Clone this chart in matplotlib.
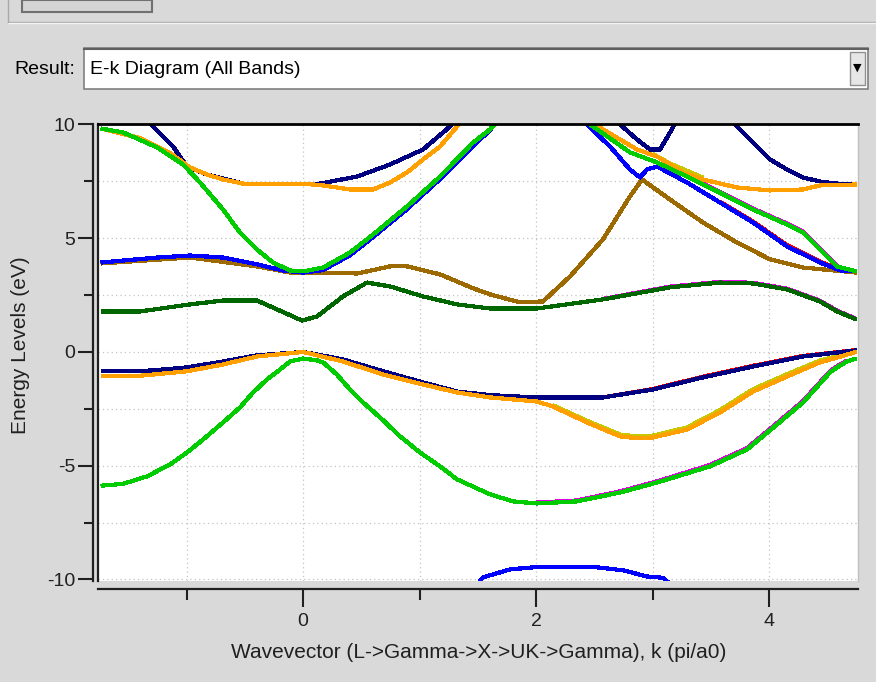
import numpy as np
import matplotlib
matplotlib.use('Agg')
from matplotlib import pyplot as plt
from matplotlib.patches import Rectangle
from matplotlib.lines import Line2D

plt.rcParams['font.family'] = ['Liberation Sans', 'DejaVu Sans']

W, H = 876, 682
bg = '#d9d9d9'

# band data, k in pi/a0, E in eV
k_blue_lo = [1.50, 1.545, 1.777, 1.974, 2.206, 2.524, 2.747, 2.953, 3.09, 3.15]
e_blue_lo = [-10.2, -9.91, -9.56, -9.47, -9.45, -9.47, -9.60, -9.87, -9.93, -10.2]

k_green_lo = [-1.734, -1.545, -1.339, -1.142, -0.996, -0.858, -0.687, -0.541, -0.429, -0.309,
              -0.197, -0.112, 0.0, 0.120, 0.172, 0.290, 0.403, 0.515, 0.661, 0.833, 1.004,
              1.176, 1.322, 1.605, 1.803, 2.009, 2.352, 2.721, 3.039, 3.494, 3.811, 4.069,
              4.292, 4.524, 4.584, 4.670, 4.75]
e_green_lo = [-5.88, -5.80, -5.47, -4.95, -4.42, -3.85, -3.10, -2.44, -1.78, -1.21,
              -0.77, -0.42, -0.29, -0.37, -0.46, -0.99, -1.65, -2.22, -2.88, -3.71, -4.42,
              -5.03, -5.60, -6.26, -6.57, -6.66, -6.57, -6.18, -5.74, -5.03, -4.29, -3.19,
              -2.22, -0.90, -0.68, -0.42, -0.29]
k_magenta_lo = [2.009, 2.352, 2.721, 3.039, 3.494, 3.811, 4.069, 4.292, 4.524, 4.584, 4.670]
e_magenta_lo = [-6.62, -6.53, -6.13, -5.69, -4.97, -4.23, -3.13, -2.16, -0.85, -0.63, -0.38]

k_orange_lo = [-1.734, -1.425, -0.996, -0.687, -0.395, 0.0, 0.343, 0.687, 1.030, 1.322, 1.605,
               2.009, 2.146, 2.438, 2.721, 2.880, 3.004, 3.296, 3.579, 3.863, 4.155, 4.438,
               4.75]
e_orange_lo = [-1.06, -1.06, -0.85, -0.55, -0.20, 0.0, -0.42, -0.99, -1.43, -1.78, -2.00,
               -2.18, -2.40, -3.10, -3.71, -3.80, -3.76, -3.41, -2.66, -1.74, -1.08, -0.46,
               0.0]
k_yellow_lo = [2.146, 2.438, 2.721, 2.880, 3.004, 3.296, 3.579, 3.863, 4.155, 4.438, 4.75]
e_yellow_lo = [-2.35, -3.03, -3.63, -3.72, -3.68, -3.32, -2.56, -1.64, -0.98, -0.38, 0.04]

k_navy_lo = [-1.734, -1.313, -0.996, -0.687, -0.395, 0.0, 0.343, 0.687, 1.030, 1.322, 1.605,
             2.009, 2.575, 3.004, 3.433, 3.863, 4.292, 4.75]
e_navy_lo = [-0.84, -0.82, -0.68, -0.42, -0.15, 0.0, -0.33, -0.85, -1.34, -1.74, -1.90,
             -2.00, -2.00, -1.65, -1.12, -0.64, -0.20, 0.07]
k_red_lo = [2.575, 3.004, 3.433, 3.863, 4.292, 4.75]
e_red_lo = [-2.00, -1.63, -1.09, -0.61, -0.18, 0.08]

k_dkgreen = [-1.734, -1.399, -0.970, -0.687, -0.395, -0.223, -0.009, 0.120, 0.343, 0.549,
             0.747, 1.030, 1.322, 1.605, 2.009, 2.575, 3.150, 3.579, 3.863, 4.155, 4.438,
             4.584, 4.75]
e_dkgreen = [1.78, 1.78, 2.09, 2.26, 2.26, 1.87, 1.38, 1.56, 2.44, 3.05, 2.88, 2.44, 2.09,
             1.91, 1.91, 2.31, 2.84, 3.05, 3.01, 2.75, 2.22, 1.78, 1.43]
k_magenta_mid = [2.575, 3.150, 3.579, 3.863, 4.155, 4.438, 4.584, 4.75]
e_magenta_mid = [2.33, 2.87, 3.08, 3.04, 2.78, 2.25, 1.81, 1.45]

k_brown = [-1.734, -0.970, -0.395, -0.112, 0.0, 0.464, 0.549, 0.747, 0.893, 1.176, 1.459,
           1.605, 1.863, 2.060, 2.292, 2.575, 2.807, 2.910, 3.150, 3.433, 3.725, 4.009,
           4.292, 4.75]
e_brown = [3.89, 4.15, 3.76, 3.49, 3.49, 3.45, 3.54, 3.76, 3.76, 3.41, 2.80, 2.53, 2.18,
           2.22, 3.32, 4.95, 6.84, 7.58, 6.70, 5.69, 4.81, 4.07, 3.71, 3.49]

k_blue_hi = [-1.734, -1.253, -0.970, -0.687, -0.395, -0.172, 0.0, 0.172, 0.403, 0.601, 0.893,
             1.176, 1.459, 1.605, 1.691, 2.0, 2.335, 2.438, 2.635, 2.807, 2.893, 2.953,
             3.039, 3.296, 3.579, 3.863, 4.155, 4.438, 4.635, 4.75]
e_blue_hi = [3.93, 4.15, 4.24, 4.15, 3.85, 3.58, 3.49, 3.60, 4.25, 5.05, 6.28, 7.60, 9.05,
             9.75, 10.3, 11.5, 10.6, 10.0, 9.03, 8.02, 7.67, 8.02, 8.15, 7.45, 6.57, 5.69,
             4.64, 3.93, 3.54, 3.54]
k_red_hi = [3.579, 3.863, 4.155, 4.438, 4.635]
e_red_hi = [6.60, 5.73, 4.69, 3.97, 3.56]

k_green_hi = [-1.734, -1.545, -1.253, -1.030, -0.884, -0.687, -0.541, -0.395, -0.258, -0.112,
              0.0, 0.172, 0.403, 0.601, 0.893, 1.176, 1.459, 1.605, 1.691, 2.1, 2.335,
              2.464, 2.807, 3.039, 3.296, 3.579, 3.863, 4.155, 4.292, 4.438, 4.584, 4.75]
e_green_hi = [9.82, 9.65, 8.99, 8.24, 7.45, 6.26, 5.25, 4.50, 3.93, 3.58, 3.54, 3.71, 4.37,
              5.16, 6.40, 7.71, 9.20, 9.78, 10.3, 11.5, 10.6, 10.0, 8.77, 8.33, 7.71, 7.00,
              6.26, 5.60, 5.25, 4.50, 3.76, 3.54]
k_magenta_hi = [3.296, 3.579, 3.863, 4.155, 4.292, 4.438, 4.584]
e_magenta_hi = [7.75, 7.04, 6.30, 5.64, 5.29, 4.55, 3.80]

k_navy_hi = [-1.40, -1.288, -1.116, -0.996, -0.824, -0.515, 0.0, 0.146, 0.464, 0.747, 1.030,
             1.262, 1.305, 2.0, 2.678, 2.721, 2.867, 2.979, 3.064, 3.176, 3.20, 3.45,
             3.665, 3.725, 3.863, 4.009, 4.155, 4.292, 4.438, 4.584, 4.75]
e_navy_hi = [10.6, 9.91, 9.03, 8.15, 7.80, 7.40, 7.40, 7.40, 7.71, 8.24, 8.90, 9.91, 10.3,
             11.5, 10.3, 10.0, 9.34, 8.90, 8.90, 9.87, 10.3, 11.5, 10.3, 9.91, 9.20, 8.46,
             8.02, 7.67, 7.49, 7.40, 7.36]

k_orange_hi = [-1.734, -1.399, -1.142, -0.970, -0.824, -0.687, -0.515, 0.0, 0.172, 0.403,
               0.601, 0.747, 0.893, 1.030, 1.176, 1.322, 1.365, 2.0, 2.464, 2.575, 2.867,
               3.039, 3.262, 3.433, 3.725, 4.009, 4.292, 4.438, 4.75]
e_orange_hi = [9.82, 9.40, 8.75, 8.11, 7.80, 7.58, 7.40, 7.40, 7.32, 7.14, 7.14, 7.45, 7.89,
               8.46, 9.03, 9.91, 10.3, 11.5, 10.3, 9.78, 8.90, 8.59, 7.89, 7.58, 7.23, 7.10,
               7.14, 7.32, 7.36]
k_yellow_hi = [3.004, 3.150, 3.296, 3.433]
e_yellow_hi = [8.70, 8.28, 7.96, 7.66]

bands = [
    (k_red_lo, e_red_lo, '#ff0000'),
    (k_magenta_lo, e_magenta_lo, '#e000e0'),
    (k_yellow_lo, e_yellow_lo, '#c8c800'),
    (k_magenta_mid, e_magenta_mid, '#e000e0'),
    (k_red_hi, e_red_hi, '#ff0000'),
    (k_magenta_hi, e_magenta_hi, '#e000e0'),
    (k_yellow_hi, e_yellow_hi, '#c8c800'),
    (k_blue_lo, e_blue_lo, '#0000ff'),
    (k_green_lo, e_green_lo, '#00cc00'),
    (k_navy_lo, e_navy_lo, '#000080'),
    (k_orange_lo, e_orange_lo, '#ffa000'),
    (k_dkgreen, e_dkgreen, '#006600'),
    (k_brown, e_brown, '#9c6a00'),
    (k_blue_hi, e_blue_hi, '#0000ff'),
    (k_navy_hi, e_navy_hi, '#000080'),
    (k_orange_hi, e_orange_hi, '#ffa000'),
    (k_green_hi, e_green_hi, '#00cc00'),
]

def fx(p):
    return p / W

def fy(p):
    return 1 - p / H

fig = plt.figure(figsize=(W / 100, H / 100), dpi=100, facecolor=bg)

#Window chrome above the plot
fig.add_artist(Line2D([fx(8), fx(876)], [fy(22), fy(22)], color='#a8a8a8', lw=1))
fig.add_artist(Line2D([fx(8), fx(876)], [fy(23), fy(23)], color='#f4f4f4', lw=1))
fig.add_artist(Line2D([fx(8), fx(8)], [fy(0), fy(22)], color='#a8a8a8', lw=1))
fig.add_artist(Rectangle((fx(22), fy(12)), fx(130), 12 / H, transform=fig.transFigure,
                         facecolor='#d4d4d4', edgecolor='#707070', lw=1.5))
fig.text(fx(14), fy(69), 'Result:', fontsize=14, ha='left', va='center')
fig.add_artist(Rectangle((fx(84), fy(89)), fx(784), 41 / H, transform=fig.transFigure,
                         facecolor='white', edgecolor='#808080', lw=1.2))
fig.add_artist(Line2D([fx(84), fx(868)], [fy(48.5), fy(48.5)], color='#606060', lw=1.5))
fig.add_artist(Rectangle((fx(850), fy(85)), fx(15), 33 / H, transform=fig.transFigure,
                         facecolor='#e6e6e6', edgecolor='#909090', lw=1))
fig.text(fx(857.5), fy(68), '\u25bc', fontsize=8, ha='center', va='center',
         family=['DejaVu Sans'])
fig.text(fx(90), fy(69), 'E-k Diagram (All Bands)', fontsize=14, ha='left', va='center')

ax = fig.add_axes([fx(98), 1 - 581 / H, fx(760), 457 / H])
ax.set_facecolor('white')

for k, e, c in bands:
    ax.plot(k, e, color=c, lw=2.3, antialiased=False, solid_capstyle='butt')

ax.set_xlim(-1.760, 4.764)
ax.set_ylim(-10.07, 10.02)

ax.set_xticks([0, 2, 4])
ax.set_xticks([-1, 1, 3], minor=True)
ax.set_yticks([-10, -5, 0, 5, 10])
ax.set_yticks([-7.5, -2.5, 2.5, 7.5], minor=True)
ax.set_yticklabels(['-10', '-5', '0', '5', '10'])
ax.grid(True, which='both', color='#c4c4c4', lw=0.9, linestyle=(0, (1, 2.5)))
ax.set_axisbelow(True)

ax.spines['left'].set_position(('outward', 3.6))
ax.spines['bottom'].set_position(('outward', 5.8))
for s in ['left', 'bottom']:
    ax.spines[s].set_color('#202020')
    ax.spines[s].set_linewidth(1.6)
ax.spines['top'].set_color('black')
ax.spines['top'].set_linewidth(2.0)
ax.spines['right'].set_color('#c0c0c0')
ax.spines['right'].set_linewidth(1.0)
ax.plot([0, 0], [0, 1], transform=ax.transAxes, color='#202020', lw=1.6, clip_on=False)

ax.tick_params(axis='both', which='both', color='#202020', width=1.5, labelsize=14,
               labelcolor='#202020')
ax.tick_params(axis='y', which='major', length=10.8, pad=2)
ax.tick_params(axis='y', which='minor', length=6.5)
ax.tick_params(axis='x', which='major', length=13, pad=4)
ax.tick_params(axis='x', which='minor', length=8)

fig.text(fx(479), fy(652), 'Wavevector (L->Gamma->X->UK->Gamma), k (pi/a0)', fontsize=15,
         ha='center', va='center', color='#202020')
fig.text(fx(21), fy(345), 'Energy Levels (eV)', fontsize=15, rotation=90,
         ha='center', va='center', color='#202020')

fig.savefig('out.png', dpi=100, facecolor=bg)
